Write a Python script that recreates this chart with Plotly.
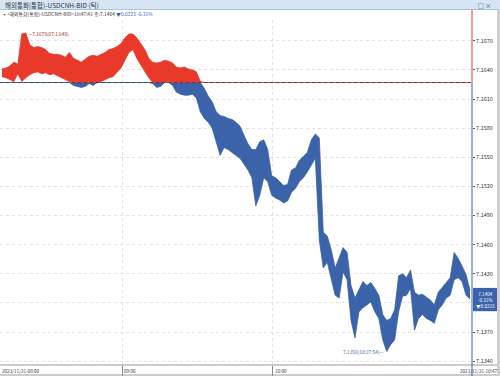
import plotly.graph_objects as go

# ---- data (tick-chart high/low envelope) ----
high = [7.1641, 7.1642, 7.1644, 7.1648, 7.1646, 7.1677, 7.1678, 7.1666, 7.1663, 7.1664,
        7.1663, 7.1661, 7.1657, 7.1656, 7.1656, 7.1655, 7.1653, 7.1658, 7.1652, 7.1650,
        7.1648, 7.1651, 7.1654, 7.1655, 7.1654, 7.1656, 7.1658, 7.1661, 7.1662, 7.1664,
        7.1667, 7.1673, 7.1677, 7.1677, 7.1673, 7.1667, 7.1661, 7.1652, 7.1648, 7.1647,
        7.1648, 7.1650, 7.1649, 7.1647, 7.1643, 7.1642, 7.1643, 7.1641, 7.1640, 7.1638,
        7.1628, 7.1621, 7.1613, 7.1607, 7.1597, 7.1593, 7.1592, 7.1590, 7.1589, 7.1586,
        7.1582, 7.1573, 7.1564, 7.1558, 7.1558, 7.1566, 7.1568, 7.1558, 7.1531, 7.1529,
        7.1525, 7.1521, 7.1522, 7.1537, 7.1539, 7.1547, 7.1551, 7.1555, 7.1568, 7.1574,
        7.1570, 7.1473, 7.1469, 7.1455, 7.1436, 7.1446, 7.1457, 7.1452, 7.1418, 7.1405,
        7.1413, 7.1422, 7.1418, 7.1421, 7.1415, 7.1408, 7.1388, 7.1382, 7.1384, 7.1393,
        7.1428, 7.1430, 7.1426, 7.1434, 7.1411, 7.1408, 7.1409, 7.1406, 7.1403, 7.1398,
        7.1411, 7.1416, 7.1421, 7.1426, 7.1452, 7.1446, 7.1438, 7.1429, 7.1413]
low = [7.1633, 7.1632, 7.1630, 7.1628, 7.1636, 7.1628, 7.1632, 7.1635, 7.1637, 7.1638,
       7.1636, 7.1637, 7.1635, 7.1636, 7.1634, 7.1632, 7.1630, 7.1628, 7.1624, 7.1623,
       7.1622, 7.1623, 7.1626, 7.1624, 7.1627, 7.1628, 7.1630, 7.1632, 7.1633, 7.1638,
       7.1642, 7.1650, 7.1658, 7.1661, 7.1652, 7.1645, 7.1638, 7.1632, 7.1626, 7.1622,
       7.1623, 7.1627, 7.1628, 7.1624, 7.1617, 7.1615, 7.1614, 7.1614, 7.1615, 7.1611,
       7.1597, 7.1590, 7.1586, 7.1580, 7.1566, 7.1552, 7.1560, 7.1558, 7.1555, 7.1552,
       7.1549, 7.1543, 7.1537, 7.1529, 7.1500, 7.1511, 7.1529, 7.1525, 7.1511, 7.1508,
       7.1506, 7.1503, 7.1505, 7.1514, 7.1518, 7.1525, 7.1529, 7.1535, 7.1542, 7.1549,
       7.1465, 7.1436, 7.1442, 7.1424, 7.1408, 7.1405, 7.1432, 7.1424, 7.1382, 7.1364,
       7.1391, 7.1395, 7.1398, 7.1401, 7.1391, 7.1384, 7.1362, 7.1350, 7.1357, 7.1362,
       7.1391, 7.1407, 7.1408, 7.1415, 7.1372, 7.1384, 7.1388, 7.1384, 7.1382, 7.1379,
       7.1393, 7.1398, 7.1405, 7.1408, 7.1424, 7.1426, 7.1422, 7.1408, 7.1404]

prev_close = 7.1627
last_price = 7.1404
change = "▼0.0223"
change_pct = "-0.31%"
max_label = "7.1678(07:13:40)"
min_label = "7.1350(10:27:54)"
y_ticks = [7.1340, 7.1370, 7.1400, 7.1430, 7.1460, 7.1490, 7.1520, 7.1550, 7.1580, 7.1610, 7.1640, 7.1670]
# 7.1400 label is hidden behind the last-price box in the reference
y_tick_text = ["7.1340", "7.1370", "", "7.1430", "7.1460", "7.1490", "7.1520", "7.1550",
               "7.1580", "7.1610", "7.1640", "7.1670"]
x_tick_pos = [30.3, 68.3]
x_tick_text = ["09:00", "10:00"]
x_start_label = "2023/11/21-08:00"
x_end_label = "2023/11/21-10:47"
title_text = "해외통화(통합)-USDCNH-BID (틱)"
legend_text = "<해외통화(통합)-USDCNH-BID>10:47:41 종:7.1404 "

RED = "#E8392B"
BLUE = "#3A63AA"
FONT = "Noto Sans CJK KR"

W, H = 500, 376
PL, PR, PT, PB = 0, 28, 20, 11
PW, PH = W - PL - PR, H - PT - PB


def px(x):
    return (x - PL) / PW


def py(y):
    return (H - PB - y) / PH


idx = list(range(len(high)))
red_lo, red_hi, blue_lo, blue_hi = [], [], [], []
for h, l in zip(high, low):
    red_lo.append(max(l, prev_close) if h > prev_close else prev_close)
    red_hi.append(h if h > prev_close else prev_close)
    blue_hi.append(min(h, prev_close) if l < prev_close else prev_close)
    blue_lo.append(l if l < prev_close else prev_close)

fig = go.Figure()


def band(lo, hi, color):
    fig.add_trace(go.Scatter(x=idx, y=lo, mode="lines", line=dict(width=0.8, color=color),
                             hoverinfo="skip"))
    fig.add_trace(go.Scatter(x=idx, y=hi, mode="lines", line=dict(width=0.8, color=color),
                             fill="tonexty", fillcolor=color, hoverinfo="skip"))


band(blue_lo, blue_hi, BLUE)
band(red_lo, red_hi, RED)

n = len(high)
fig.update_layout(
    width=W, height=H, margin=dict(l=PL, r=PR, t=PT, b=PB),
    paper_bgcolor="white", plot_bgcolor="white", showlegend=False,
    font=dict(family=FONT, size=7, color="#333"),
    xaxis=dict(range=[-0.5, n - 0.5], tickvals=x_tick_pos, showticklabels=False,
               showgrid=True, gridcolor="#E2E2E2", griddash="dot", gridwidth=1,
               ticks="outside", ticklen=10, tickcolor="#888",
               zeroline=False, showline=False, fixedrange=True),
    yaxis=dict(side="right", range=[7.13361, 7.16914], tickvals=y_ticks, ticktext=y_tick_text,
               showgrid=True, gridcolor="#E2E2E2", griddash="dot",
               gridwidth=1, ticks="outside", ticklen=2, tickcolor="#555",
               tickfont=dict(size=5.5, color="#333"), zeroline=False, showline=False,
               fixedrange=True),
)

shapes = []
# header bar
shapes.append(dict(type="rect", xref="paper", yref="paper", x0=px(0), x1=px(500), y0=py(9.5), y1=py(0),
                   fillcolor="#D5E5F3", line=dict(width=0), layer="below"))
shapes.append(dict(type="line", xref="paper", yref="paper", x0=px(0), x1=px(500), y0=py(9.5), y1=py(9.5),
                   line=dict(color="#A9C4DD", width=1)))
# right frame strip
shapes.append(dict(type="rect", xref="paper", yref="paper", x0=px(497), x1=px(500), y0=py(376), y1=py(9.5),
                   fillcolor="#D0D0D0", line=dict(width=0)))
# bottom axis lines
shapes.append(dict(type="line", xref="paper", yref="paper", x0=px(0), x1=px(497), y0=0, y1=0,
                   line=dict(color="#999", width=1)))
shapes.append(dict(type="line", xref="paper", yref="paper", x0=px(0), x1=px(497), y0=py(375), y1=py(375),
                   line=dict(color="#999", width=1)))
# previous close baseline
shapes.append(dict(type="line", xref="paper", yref="y", x0=0, x1=1, y0=prev_close, y1=prev_close,
                   line=dict(color="#444", width=1, dash="dot")))
# right axis line, red above / blue below previous close
shapes.append(dict(type="line", xref="paper", yref="y", x0=1, x1=1, y0=prev_close, y1=7.16914,
                   line=dict(color=RED, width=1)))
shapes.append(dict(type="line", xref="paper", yref="paper", x0=1, x1=1, y0=py(10), y1=1,
                   line=dict(color=RED, width=1)))
shapes.append(dict(type="line", xref="paper", yref="y", x0=1, x1=1, y0=7.13361, y1=prev_close,
                   line=dict(color=BLUE, width=1)))
shapes.append(dict(type="line", xref="paper", yref="paper", x0=1, x1=1, y0=py(376), y1=0,
                   line=dict(color=BLUE, width=1)))
# last price box
shapes.append(dict(type="rect", xref="paper", yref="y", x0=px(473), x1=px(497),
                   y0=last_price - 0.00125, y1=last_price + 0.00115,
                   fillcolor=BLUE, line=dict(width=0)))
fig.update_layout(shapes=shapes)

ann = []
ann.append(dict(xref="paper", yref="paper", x=px(3), y=py(5), text=title_text, showarrow=False,
                xanchor="left", yanchor="middle", font=dict(size=6.5, color="#334")))
ann.append(dict(xref="paper", yref="paper", x=px(476), y=py(5), text="□ ×", showarrow=False,
                xanchor="left", yanchor="middle", font=dict(size=6, color="#334")))
ann.append(dict(xref="paper", yref="paper", x=px(0), y=py(14), showarrow=False,
                text="▪" + legend_text + "<span style='color:#3A63AA'>" + change + " " + change_pct + "</span>",
                xanchor="left", yanchor="middle", font=dict(size=4.9, color="#333")))
ann.append(dict(xref="paper", yref="paper", x=px(0), y=py(370.5), text=x_start_label, showarrow=False,
                xanchor="left", yanchor="middle", font=dict(size=4.6, color="#333")))
ann.append(dict(xref="paper", yref="paper", x=px(500), y=py(370.5), text=x_end_label, showarrow=False,
                xanchor="right", yanchor="middle", font=dict(size=4.6, color="#333")))
for pos, t in zip(x_tick_pos, x_tick_text):
    ann.append(dict(x=pos, xref="x", yref="paper", y=py(370.5), text=t, showarrow=False,
                    xanchor="left", xshift=0, yanchor="middle", font=dict(size=4.6, color="#333")))
imax = high.index(max(high))
imin = low.index(min(low))
ann.append(dict(x=imax, y=max(high), text="—" + max_label, showarrow=False, xanchor="left",
                yanchor="middle", font=dict(size=4.8, color="#A0302A")))
ann.append(dict(x=imin, y=min(low), text=min_label + "—", showarrow=False, xanchor="right",
                yanchor="middle", font=dict(size=4.8, color="#4A6A9A")))
ann.append(dict(xref="paper", yref="y", x=px(485), y=last_price - 0.00005,
                text=f"{last_price:.4f}<br>{change_pct}<br>{change}",
                showarrow=False, xanchor="center", yanchor="middle", align="center",
                font=dict(size=4.6, color="white")))
fig.update_layout(annotations=ann)

fig.write_html("out.html", config={"displayModeBar": False},
               post_script="document.body.style.margin='0';document.body.style.overflow='hidden';")
